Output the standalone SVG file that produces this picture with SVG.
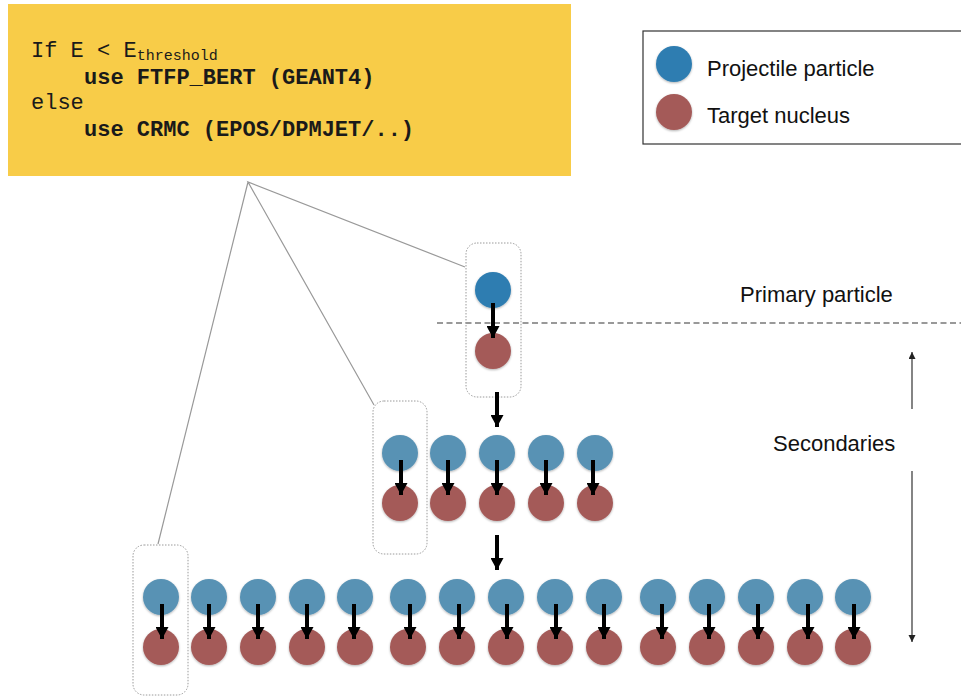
<svg xmlns="http://www.w3.org/2000/svg" width="961" height="697" viewBox="0 0 961 697">
<style>
.code{font-family:"Liberation Mono","DejaVu Sans Mono",monospace;font-size:22px;fill:#1a1a1a}
.b{font-weight:bold}
.lbl{font-family:"Liberation Sans",Arial,sans-serif;font-size:22px;fill:#111}
.pb{fill:#5992B4;filter:url(#sh)}
.pbd{fill:#2F7DB1;filter:url(#sh)}
.tr{fill:#A45A58;filter:url(#sh)}
.box{fill:none;stroke:#9a9a9a;stroke-width:1;stroke-dasharray:1.5 1.5}
.ar{stroke:#000;stroke-width:4;fill:none;marker-end:url(#ah)}
.thin{stroke:#999;stroke-width:1.2;fill:none}
</style>
<defs>
<filter id="sh" x="-30%" y="-30%" width="160%" height="160%">
<feDropShadow dx="0" dy="1" stdDeviation="1" flood-color="#000" flood-opacity="0.3"/>
</filter>
<marker id="ah" markerUnits="userSpaceOnUse" markerWidth="14" markerHeight="13" refX="12" refY="6.5" orient="auto">
<path d="M0,0 L12,6.5 L0,13 Z" fill="#000"/>
</marker>
<marker id="sa" markerUnits="userSpaceOnUse" markerWidth="8" markerHeight="8" refX="7" refY="3.5" orient="auto">
<path d="M0,0 L7,3.5 L0,7 Z" fill="#222"/>
</marker>
</defs>

<g id="rule-box">
<rect x="8" y="4" width="563" height="172" fill="#F8CC48"/>
<text class="code" x="31" y="57">If E &lt; E<tspan font-size="15" dy="3">threshold</tspan></text>
<text class="code b" x="84" y="84">use FTFP_BERT (GEANT4)</text>
<text class="code" x="31" y="109">else</text>
<text class="code b" x="84" y="136">use CRMC (EPOS/DPMJET/..)</text>
</g>

<g id="legend">
<rect x="643" y="31" width="330" height="113" fill="#fff" stroke="#333" stroke-width="1.2"/>
<circle class="pbd" cx="674" cy="64" r="18"/>
<circle class="tr" cx="674" cy="112" r="18"/>
<text class="lbl" x="707" y="76">Projectile particle</text>
<text class="lbl" x="707" y="123">Target nucleus</text>
</g>

<g id="labels">
<text class="lbl" x="740" y="302">Primary particle</text>
<text class="lbl" x="773" y="451">Secondaries</text>
<line x1="437" y1="323" x2="961" y2="323" stroke="#999" stroke-width="2" stroke-dasharray="6 3.5"/>
</g>

<g id="primary">
<rect class="box" x="466" y="243" width="55" height="154" rx="11"/>
<circle class="pbd" cx="493" cy="290" r="18"/>
<circle class="tr" cx="493" cy="351" r="18"/>
</g>

<g id="secondaries-row1">
<rect class="box" x="373" y="401" width="54" height="153" rx="11"/>
<circle class="pb" cx="400" cy="453" r="18"/><circle class="tr" cx="400" cy="503" r="18"/>
<circle class="pb" cx="448" cy="453" r="18"/><circle class="tr" cx="448" cy="503" r="18"/>
<circle class="pb" cx="497" cy="453" r="18"/><circle class="tr" cx="497" cy="503" r="18"/>
<circle class="pb" cx="546" cy="453" r="18"/><circle class="tr" cx="546" cy="503" r="18"/>
<circle class="pb" cx="595" cy="453" r="18"/><circle class="tr" cx="595" cy="503" r="18"/>
</g>

<g id="secondaries-row2">
<rect class="box" x="133" y="545" width="55" height="150" rx="11"/>
<circle class="pb" cx="161" cy="597" r="18"/><circle class="tr" cx="161" cy="647" r="18"/>
<circle class="pb" cx="209" cy="597" r="18"/><circle class="tr" cx="209" cy="647" r="18"/>
<circle class="pb" cx="258" cy="597" r="18"/><circle class="tr" cx="258" cy="647" r="18"/>
<circle class="pb" cx="307" cy="597" r="18"/><circle class="tr" cx="307" cy="647" r="18"/>
<circle class="pb" cx="355" cy="597" r="18"/><circle class="tr" cx="355" cy="647" r="18"/>
<circle class="pb" cx="408" cy="597" r="18"/><circle class="tr" cx="408" cy="647" r="18"/>
<circle class="pb" cx="457" cy="597" r="18"/><circle class="tr" cx="457" cy="647" r="18"/>
<circle class="pb" cx="506" cy="597" r="18"/><circle class="tr" cx="506" cy="647" r="18"/>
<circle class="pb" cx="555" cy="597" r="18"/><circle class="tr" cx="555" cy="647" r="18"/>
<circle class="pb" cx="604" cy="597" r="18"/><circle class="tr" cx="604" cy="647" r="18"/>
<circle class="pb" cx="658" cy="597" r="18"/><circle class="tr" cx="658" cy="647" r="18"/>
<circle class="pb" cx="707" cy="597" r="18"/><circle class="tr" cx="707" cy="647" r="18"/>
<circle class="pb" cx="756" cy="597" r="18"/><circle class="tr" cx="756" cy="647" r="18"/>
<circle class="pb" cx="805" cy="597" r="18"/><circle class="tr" cx="805" cy="647" r="18"/>
<circle class="pb" cx="853" cy="597" r="18"/><circle class="tr" cx="853" cy="647" r="18"/>
</g>

<g id="connectors">
<path class="thin" d="M465,267 L248,182 L374,405 M248,182 L158,544"/>
<path class="ar" d="M493,303 V338"/>
<path class="ar" d="M497,392 V427"/>
<path class="ar" d="M497,535 V570"/>
<path class="ar" d="M401,460 V495"/>
<path class="ar" d="M448,460 V495"/>
<path class="ar" d="M497,460 V495"/>
<path class="ar" d="M546,460 V495"/>
<path class="ar" d="M593,460 V495"/>
<path class="ar" d="M162,604 V639"/>
<path class="ar" d="M209,604 V639"/>
<path class="ar" d="M258,604 V639"/>
<path class="ar" d="M307,604 V639"/>
<path class="ar" d="M354,604 V639"/>
<path class="ar" d="M410,604 V639"/>
<path class="ar" d="M459,604 V639"/>
<path class="ar" d="M507,604 V639"/>
<path class="ar" d="M556,604 V639"/>
<path class="ar" d="M604,604 V639"/>
<path class="ar" d="M662,604 V639"/>
<path class="ar" d="M709,604 V639"/>
<path class="ar" d="M758,604 V639"/>
<path class="ar" d="M808,604 V639"/>
<path class="ar" d="M854,604 V639"/>
<path d="M912,409 V352" stroke="#333" stroke-width="1.2" marker-end="url(#sa)"/>
<path d="M912,471 V642" stroke="#333" stroke-width="1.2" marker-end="url(#sa)"/>
</g>
</svg>
